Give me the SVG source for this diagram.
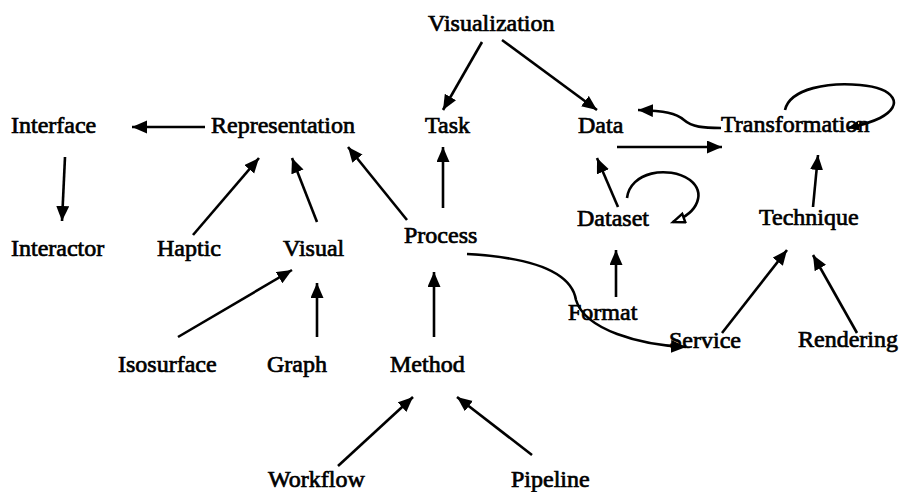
<svg xmlns="http://www.w3.org/2000/svg" width="899" height="492" viewBox="0 0 899 492">
  <style>
    .lbl { font-family: "Liberation Serif", "Times New Roman", serif; font-size: 24px; fill: #000; stroke: #000; stroke-width: 0.7; }
    .edge { fill: none; stroke: #000; stroke-width: 2.6; marker-end: url(#head); }
    .open { marker-end: url(#hollow); }
    .small { marker-end: url(#tiny); }
  </style>
  <defs>
    <marker id="head" markerUnits="userSpaceOnUse" markerWidth="16" markerHeight="14" refX="15" refY="6.5" orient="auto">
      <path d="M0,0 L15,6.5 L0,13 z" fill="#000"/>
    </marker>
    <marker id="hollow" markerUnits="userSpaceOnUse" markerWidth="16" markerHeight="14" refX="13" refY="6" orient="auto">
      <path d="M1.5,1.5 L13,6 L1.5,10.5 z" fill="#fff" stroke="#000" stroke-width="2.4"/>
    </marker>
    <marker id="tiny" markerUnits="userSpaceOnUse" markerWidth="12" markerHeight="10" refX="11" refY="5" orient="auto">
      <path d="M0,0 L11,5 L0,10 z" fill="#000"/>
    </marker>
  </defs>

  <g id="connectors">
    <path class="edge" d="M482,42 L443,110"/>
    <path class="edge" d="M502,40 L597,110"/>
    <path class="edge" d="M205,127 L132,127"/>
    <path class="edge" d="M65,157 L62,221"/>
    <path class="edge" d="M193,235 L259,158"/>
    <path class="edge" d="M317,222 L292,158"/>
    <path class="edge" d="M407,220 L348,147"/>
    <path class="edge" d="M443,208 L443,147"/>
    <path class="edge" d="M617,147 L722,147"/>
    <path class="edge" d="M721,128 C703,128 692,127 684,120 C676,113 665,111 638,110"/>
    <path class="edge small" d="M785,110 C790,88 830,82 860,85 C895,88 905,105 880,118 C872,122 862,125 848,128"/>
    <path class="edge" d="M618,207 L597,158"/>
    <path class="edge open" d="M627,198 C630,172 668,165 690,180 C705,192 700,212 673,222"/>
    <path class="edge" d="M813,207 L818,155"/>
    <path class="edge" d="M616,297 L616,250"/>
    <path class="edge" d="M467,254 C540,258 572,275 576,300 C585,330 640,345 686,347"/>
    <path class="edge" d="M722,333 L787,250"/>
    <path class="edge" d="M857,333 L813,255"/>
    <path class="edge" d="M178,337 L292,270"/>
    <path class="edge" d="M317,337 L317,283"/>
    <path class="edge" d="M434,337 L434,272"/>
    <path class="edge" d="M338,466 L413,397"/>
    <path class="edge" d="M532,455 L457,397"/>
  </g>

  <g id="node-visualization"><text class="lbl" x="428" y="31">Visualization</text></g>
  <g id="node-interface"><text class="lbl" x="11" y="133">Interface</text></g>
  <g id="node-representation"><text class="lbl" x="211" y="133">Representation</text></g>
  <g id="node-task"><text class="lbl" x="425" y="133">Task</text></g>
  <g id="node-data"><text class="lbl" x="578" y="133">Data</text></g>
  <g id="node-transformation"><text class="lbl" x="721" y="132">Transformation</text></g>
  <g id="node-interactor"><text class="lbl" x="11" y="256">Interactor</text></g>
  <g id="node-haptic"><text class="lbl" x="157" y="256">Haptic</text></g>
  <g id="node-visual"><text class="lbl" x="283" y="256">Visual</text></g>
  <g id="node-process"><text class="lbl" x="404" y="243">Process</text></g>
  <g id="node-dataset"><text class="lbl" x="577" y="226">Dataset</text></g>
  <g id="node-technique"><text class="lbl" x="759" y="225">Technique</text></g>
  <g id="node-format"><text class="lbl" x="568" y="320">Format</text></g>
  <g id="node-service"><text class="lbl" x="669" y="348">Service</text></g>
  <g id="node-rendering"><text class="lbl" x="798" y="347">Rendering</text></g>
  <g id="node-isosurface"><text class="lbl" x="118" y="372">Isosurface</text></g>
  <g id="node-graph"><text class="lbl" x="267" y="372">Graph</text></g>
  <g id="node-method"><text class="lbl" x="390" y="372">Method</text></g>
  <g id="node-workflow"><text class="lbl" x="268" y="487">Workflow</text></g>
  <g id="node-pipeline"><text class="lbl" x="511" y="487">Pipeline</text></g>
</svg>
